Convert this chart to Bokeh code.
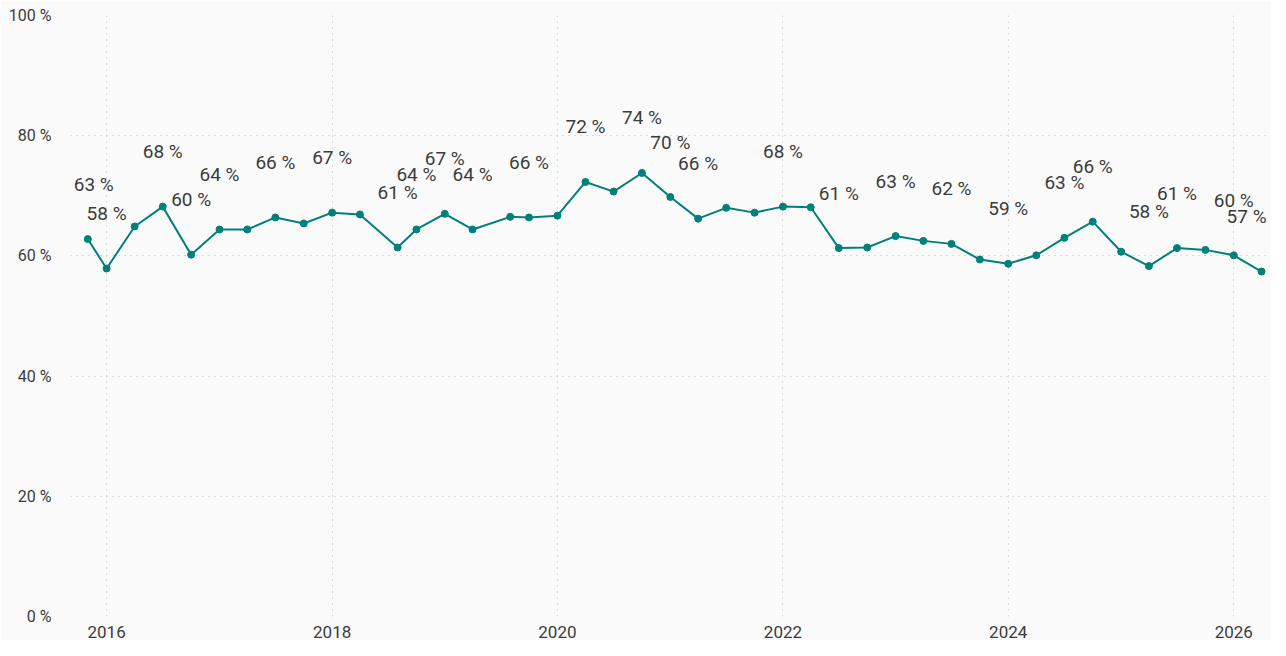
import pandas as pd
from bokeh.plotting import figure
from bokeh.models import ColumnDataSource, FixedTicker, PrintfTickFormatter, DatetimeTickFormatter, Range1d
from bokeh.embed import file_html
from bokeh.resources import INLINE
from bokeh.core.properties import value

dates = [
    "2015-11-01", "2016-01-01", "2016-04-01", "2016-07-01", "2016-10-01",
    "2017-01-01", "2017-04-01", "2017-07-01", "2017-10-01", "2018-01-01",
    "2018-04-01", "2018-08-01", "2018-10-01", "2019-01-01", "2019-04-01",
    "2019-08-01", "2019-10-01", "2020-01-01", "2020-04-01", "2020-07-01",
    "2020-10-01", "2021-01-01", "2021-04-01", "2021-07-01", "2021-10-01",
    "2022-01-01", "2022-04-01", "2022-07-01", "2022-10-01", "2023-01-01",
    "2023-04-01", "2023-07-01", "2023-10-01", "2024-01-01", "2024-04-01",
    "2024-07-01", "2024-10-01", "2025-01-01", "2025-04-01", "2025-07-01",
    "2025-10-01", "2026-01-01", "2026-04-01",
]
values = [
    62.8, 57.9, 64.9, 68.2, 60.2,
    64.4, 64.4, 66.4, 65.4, 67.2,
    66.9, 61.4, 64.4, 67.0, 64.4,
    66.5, 66.4, 66.7, 72.3, 70.7,
    73.8, 69.8, 66.2, 68.0, 67.2,
    68.2, 68.1, 61.3, 61.4, 63.3,
    62.5, 62.0, 59.4, 58.7, 60.1,
    63.0, 65.7, 60.7, 58.3, 61.3,
    61.0, 60.1, 57.4,
]
labels = [
    "63 %", "58 %", "", "68 %", "60 %",
    "64 %", "", "66 %", "", "67 %",
    "", "61 %", "64 %", "67 %", "64 %",
    "", "66 %", "", "72 %", "",
    "74 %", "70 %", "66 %", "", "",
    "68 %", "", "61 %", "", "63 %",
    "", "62 %", "", "59 %", "",
    "63 %", "66 %", "", "58 %", "61 %",
    "", "60 %", "57 %",
]
year_ticks = [2016, 2018, 2020, 2022, 2024, 2026]
pct_ticks = [0, 20, 40, 60, 80, 100]

x = pd.to_datetime(dates)
# keep edge labels inside the plot area
dx = [0] * len(dates)
dx[0] = 6
dx[-1] = -15
src = ColumnDataSource(dict(x=x, y=values, label=labels, dx=dx))

bg = "#fafafa"
txt = "#3c3c3c"
teal = "#00807a"

p = figure(
    width=1270, height=640, x_axis_type="datetime",
    output_backend="svg", toolbar_location=None,
    x_range=Range1d(pd.Timestamp("2015-09-06"), pd.Timestamp("2026-04-30")),
    y_range=Range1d(0, 100),
    min_border_left=70, min_border_right=0, min_border_top=15, min_border_bottom=22,
    background_fill_color=bg, border_fill_color=bg,
)
p.outline_line_color = None

p.line("x", "y", source=src, line_color=teal, line_width=2)
p.scatter("x", "y", source=src, size=7, fill_color=teal, line_color=teal)
p.text("x", "y", text="label", source=src, x_offset="dx", y_offset=-55,
       text_align="center", text_baseline="middle",
       text_font=value("Roboto"), text_font_size="19px", text_color=txt)

p.xaxis.ticker = FixedTicker(ticks=[pd.Timestamp(f"{y}-01-01").value // 10**6 for y in year_ticks])
p.xaxis.formatter = DatetimeTickFormatter(years="%Y", months="%Y", days="%Y", hours="%Y")
p.yaxis.ticker = FixedTicker(ticks=pct_ticks)
p.yaxis.formatter = PrintfTickFormatter(format="%d %%")

for ax in (p.xaxis[0], p.yaxis[0]):
    ax.axis_line_color = None
    ax.major_tick_line_color = None
    ax.minor_tick_line_color = None
    ax.major_label_text_color = txt
    ax.major_label_text_font = "Roboto"
p.xaxis.major_label_text_font_size = "17px"
p.yaxis.major_label_text_font_size = "16px"
p.xaxis.major_label_standoff = 3
p.yaxis.major_label_standoff = 13

for g in (p.xgrid[0], p.ygrid[0]):
    g.grid_line_color = "#bdbdbd"
    g.grid_line_dash = "1 5"
    g.grid_line_width = 1

open("out.html", "w").write(file_html(p, INLINE))
